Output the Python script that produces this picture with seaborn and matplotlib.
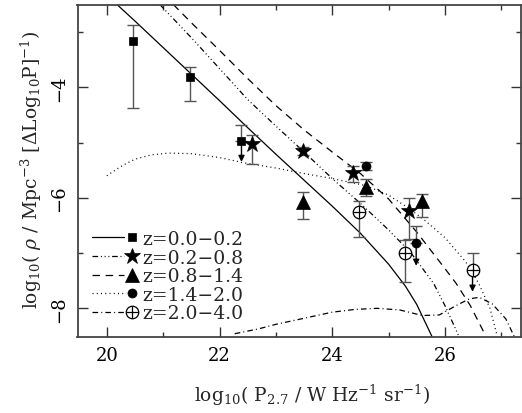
import numpy as np
import pandas as pd
import matplotlib
matplotlib.use("Agg")
import matplotlib.pyplot as plt
import seaborn as sns
from matplotlib.lines import Line2D
from matplotlib.legend_handler import HandlerBase

# ---------------- data ----------------
labels = ["z=0.0\u22120.2", "z=0.2\u22120.8", "z=0.8\u22121.4", "z=1.4\u22122.0", "z=2.0\u22124.0"]

# model curves
c0_x = [20.18, 20.5, 21.0, 21.5, 22.0, 22.5, 23.0, 23.5, 24.0, 24.5, 25.0, 25.3, 25.5, 25.77]
c0_y = [-2.5, -2.8, -3.28, -3.76, -4.24, -4.73, -5.21, -5.68, -6.15, -6.64, -7.2, -7.6, -7.93, -8.51]
c1_x = [20.94, 21.5, 22.0, 22.5, 23.0, 23.5, 24.0, 24.5, 25.0, 25.4, 25.8, 26.0, 26.25]
c1_y = [-2.5, -3.1, -3.66, -4.22, -4.7, -5.17, -5.65, -6.1, -6.58, -7.0, -7.55, -7.95, -8.51]
c2_x = [21.18, 21.5, 22.0, 22.5, 23.0, 23.5, 24.0, 24.5, 25.0, 25.5, 26.0, 26.2, 26.45, 26.73]
c2_y = [-2.5, -2.83, -3.33, -3.84, -4.33, -4.77, -5.17, -5.56, -6.02, -6.62, -7.28, -7.55, -7.95, -8.51]
c3_x = [20.0, 20.25, 20.5, 20.8, 21.1, 21.5, 22.0, 22.4, 23.0, 23.5, 24.0, 24.6, 25.0, 25.3, 25.6, 26.0, 26.37, 26.6, 26.8, 26.93]
c3_y = [-5.6, -5.43, -5.3, -5.22, -5.19, -5.2, -5.27, -5.36, -5.46, -5.56, -5.65, -5.78, -5.95, -6.15, -6.37, -6.72, -7.16, -7.55, -8.0, -8.51]
c4_x = [22.27, 22.7, 23.0, 23.5, 24.0, 24.4, 24.8, 25.2, 25.6, 25.9, 26.2, 26.43, 26.61, 26.84, 27.08, 27.23]
c4_y = [-8.46, -8.37, -8.29, -8.18, -8.07, -8.02, -8.0, -8.03, -8.13, -8.12, -7.95, -7.83, -7.8, -7.92, -8.19, -8.51]

# measured points (value, lower end, upper end of error bar)
sq_x = [20.47, 21.47]
sq_y = [-3.16, -3.82]
sq_lo = [-4.37, -4.25]
sq_hi = [-2.87, -3.63]

st_x = [22.58, 23.48, 24.37, 25.37]
st_y = [-5.03, -5.15, -5.55, -6.23]
st_lo = [-5.39, -5.22, -5.72, -6.75]
st_hi = [-4.86, -5.08, -5.42, -6.01]

tr_x = [23.48, 24.60, 25.60]
tr_y = [-6.07, -5.81, -6.06]
tr_lo = [-6.38, -5.96, -6.35]
tr_hi = [-5.90, -5.66, -5.93]

ci_x = [24.60]
ci_y = [-5.43]
ci_lo = [-5.50]
ci_hi = [-5.36]

op_x = [24.48, 25.29]
op_y = [-6.26, -6.99]
op_lo = [-6.71, -7.53]
op_hi = [-6.05, -6.77]

# upper limits (value, top of bar, arrow tip)
ul_x = [22.39, 25.49, 26.49]
ul_y = [-4.97, -6.82, -7.30]
ul_top = [-4.68, -6.51, -7.00]
ul_tip = [-5.35, -7.23, -7.70]
ul_series = [0, 3, 4]

x_ticks = [20, 22, 24, 26]
y_ticks = [-8, -6, -4]

# ---------------- style ----------------
sns.set_theme(style="ticks")
plt.rcParams['font.family'] = ['DejaVu Serif']
plt.rcParams['mathtext.fontset'] = 'dejavuserif'
FS = 13
LFS = 13.5

line_styles = [
    dict(linestyle='-'),
    dict(linestyle=(0, (4.5, 2.2, 0.8, 2.2, 0.8, 2.2, 0.8, 2.2))),
    dict(linestyle=(0, (6.0, 4.5))),
    dict(linestyle=(0, (0.8, 2.6))),
    dict(linestyle=(0, (4.5, 2.5, 0.8, 2.5))),
]
markers = ['s', '*', '^', 'o', 'o']
msizes = [6, 12, 9.5, 6.5, 9]
ERR_C = '#555555'


def marker_kw(i):
    if i == 4:
        return dict(marker='o', ms=msizes[i], mfc='white', mec='black', mew=0.9)
    return dict(marker=markers[i], ms=msizes[i], mfc='black', mec='black', mew=0.5)


def draw_marker(ax, x, y, i):
    ax.plot(x, y, linestyle='none', zorder=4, **marker_kw(i))
    if i == 4:
        ax.plot(x, y, linestyle='none', marker='+', ms=msizes[i], mec='black', mew=0.9, zorder=5)


fig = plt.figure(figsize=(5.22, 4.14), dpi=100)
ax = fig.add_axes([77.5 / 522, 76.5 / 414, (521 - 77.5) / 522, (337.5 - 5.5) / 414])

curves = [(c0_x, c0_y), (c1_x, c1_y), (c2_x, c2_y), (c3_x, c3_y), (c4_x, c4_y)]
for i, (cx, cy) in enumerate(curves):
    df = pd.DataFrame({'x': cx, 'y': cy})
    sns.lineplot(data=df, x='x', y='y', ax=ax, color='black', lw=0.9, sort=False,
                 estimator=None, **line_styles[i])

pts = [(sq_x, sq_y, sq_lo, sq_hi), (st_x, st_y, st_lo, st_hi), (tr_x, tr_y, tr_lo, tr_hi),
       (ci_x, ci_y, ci_lo, ci_hi), (op_x, op_y, op_lo, op_hi)]
for i, (px, py, plo, phi) in enumerate(pts):
    py_a = np.array(py)
    yerr = [py_a - np.array(plo), np.array(phi) - py_a]
    ax.errorbar(px, py, yerr=yerr, fmt='none', ecolor=ERR_C, elinewidth=1.0, capsize=4.5, capthick=1.0, zorder=3)
    draw_marker(ax, px, py, i)

for x, y, top, tip, s in zip(ul_x, ul_y, ul_top, ul_tip, ul_series):
    ax.errorbar([x], [y], yerr=[[0], [top - y]], fmt='none', ecolor=ERR_C, elinewidth=1.0, capsize=4.5, capthick=1.0, zorder=3)
    ax.annotate('', xy=(x, tip), xytext=(x, y), xycoords='data', textcoords='data',
                arrowprops=dict(arrowstyle='-|>', color='black', lw=1.0, mutation_scale=9, shrinkA=0, shrinkB=0), zorder=3)
    draw_marker(ax, [x], [y], s)

ax.set_xlim(19.48, 27.35)
ax.set_ylim(-8.51, -2.5)
ax.set_xticks(x_ticks)
ax.set_yticks(y_ticks)
ax.set_xticks([21, 23, 25, 27], minor=True)
ax.set_yticks([-7, -5, -3], minor=True)
ax.tick_params(which='both', direction='in', top=True, right=True, colors='#333333', labelcolor='black', labelsize=FS)
ax.tick_params(which='major', length=7, width=1.0, pad=7)
ax.tick_params(which='minor', length=3.6, width=1.0)
for lab in ax.get_yticklabels():
    lab.set_rotation(90)
    lab.set_va('center')
for sp in ax.spines.values():
    sp.set_linewidth(1.3)
    sp.set_color('#444444')

ax.set_xlabel(r"log$_{10}$( P$_{2.7}$ / W Hz$^{-1}$ sr$^{-1}$)", fontsize=LFS)
ax.set_ylabel(r"log$_{10}$( $\rho$ / Mpc$^{-3}$ [$\Delta$Log$_{10}$P]$^{-1}$)", fontsize=LFS)
ax.xaxis.set_label_coords(0.529, -0.135)
ax.yaxis.set_label_coords(-0.075, 0.505)


class RightMarkerHandler(HandlerBase):
    def __init__(self, oplus=False, **kw):
        super().__init__(**kw)
        self.oplus = oplus

    def create_artists(self, legend, orig_handle, xdescent, ydescent, width, height, fontsize, trans):
        y = (height - ydescent) / 2
        x0 = -xdescent
        line = Line2D([x0, x0 + 0.70 * width], [y, y])
        self.update_prop(line, orig_handle, legend)
        line.set_marker('None')
        mark = Line2D([x0 + 0.88 * width], [y])
        self.update_prop(mark, orig_handle, legend)
        mark.set_linestyle('None')
        arts = [line, mark]
        if self.oplus:
            plus = Line2D([x0 + 0.88 * width], [y], linestyle='None', marker='+',
                          ms=orig_handle.get_markersize(), mec='black', mew=0.9)
            arts.append(plus)
        for a in arts:
            a.set_transform(trans)
        return arts


handles = []
hmap = {}
for i in range(5):
    h = Line2D([], [], color='black', lw=0.9, **marker_kw(i), **line_styles[i])
    handles.append(h)
    hmap[h] = RightMarkerHandler(oplus=(i == 4))
leg = ax.legend(handles, labels, loc='upper left', bbox_to_anchor=(92 / 522, (414 - 231) / 414),
                bbox_transform=fig.transFigure, frameon=False, fontsize=LFS, borderpad=0,
                handlelength=2.4, handletextpad=0.3, labelspacing=0.03, borderaxespad=0,
                handler_map=hmap)

fig.savefig('out.png', dpi=100)
